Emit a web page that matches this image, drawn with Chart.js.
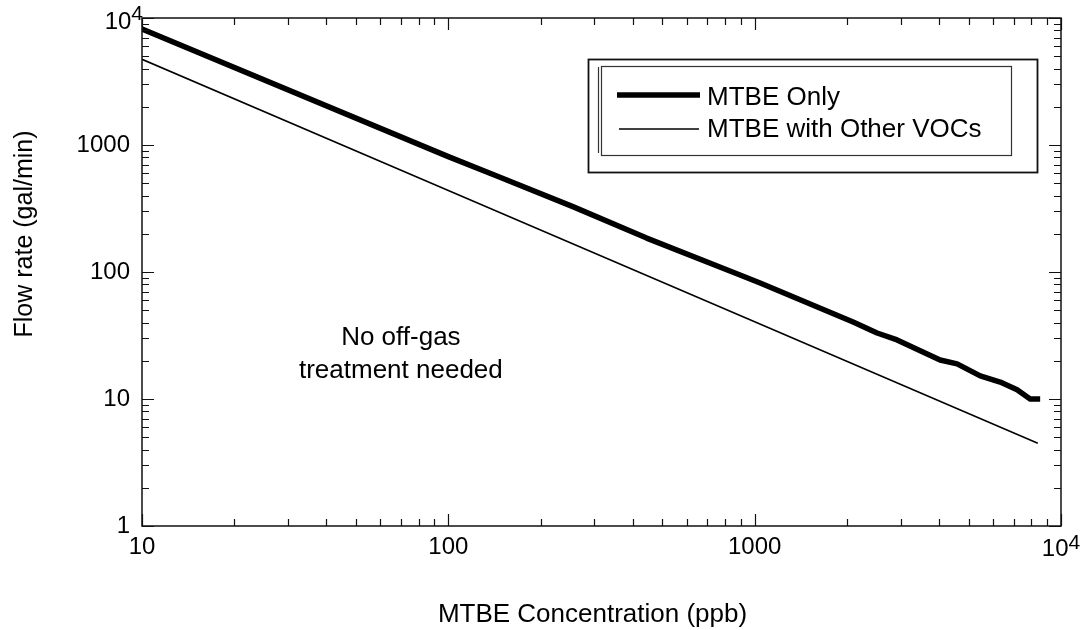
<!DOCTYPE html>
<html><head><meta charset="utf-8">
<script src="https://cdn.jsdelivr.net/npm/chart.js@4/dist/chart.umd.min.js"></script>
<style>html,body{margin:0;padding:0;background:#fff}#wrap{width:1089px;height:630px;position:relative}</style>
</head><body><div id="wrap"><canvas id="c" width="1089" height="630"></canvas></div>
<script>
// ---- data ----
const concOnly = [10, 100, 144, 255, 444, 896, 1042, 2096, 2510, 2917, 4030, 4580, 5450, 6330, 7190, 7930, 8550];
const flowOnly = [8200, 810, 570, 327, 185, 94.6, 82, 40.4, 33.1, 29.2, 20.3, 18.9, 15.2, 13.6, 11.8, 10, 10];
const concVOC = [10, 100, 1000, 8400];
const flowVOC = [4730, 438, 40.5, 4.48];
const seriesLabels = ['MTBE Only', 'MTBE with Other VOCs'];
const xTickValues = [10, 100, 1000, 10000];
const xTickLabels = ['10', '100', '1000', '10^4'];
const yTickValues = [1, 10, 100, 1000, 10000];
const yTickLabels = ['1', '10', '100', '1000', '10^4'];
const xTitle = 'MTBE Concentration (ppb)';
const yTitle = 'Flow rate (gal/min)';
const noteLines = ['No off-gas', 'treatment needed'];
const noteAnchor = {x: 70, y: 26.6};

const FONT = '"Liberation Sans", Arial, sans-serif';

function labelFor(values, labels, v) {
  const i = values.indexOf(v);
  if (i < 0) return '';
  const l = labels[i];
  return l.includes('^') ? '' : l;
}

const decorations = {
  id: 'decorations',
  afterDraw(chart) {
    const ctx = chart.ctx;
    const a = chart.chartArea;
    const xs = chart.scales.x, ys = chart.scales.y;
    ctx.save();
    ctx.strokeStyle = '#111';
    ctx.fillStyle = '#000';
    // frame
    ctx.lineWidth = 1.5;
    ctx.strokeRect(a.left, a.top, a.right - a.left, a.bottom - a.top);
    // ticks (inward, all four sides)
    ctx.lineWidth = 1.2;
    const xMaj = xTickValues, yMaj = yTickValues;
    const minors = (lo, hi) => { const r = []; for (let d = lo; d < hi; d *= 10) for (let k = 2; k <= 9; k++) r.push(d * k); return r; };
    const drawX = (v, len) => {
      const p = Math.round(xs.getPixelForValue(v)) + 0.5;
      ctx.beginPath();
      ctx.moveTo(p, a.bottom); ctx.lineTo(p, a.bottom - len);
      ctx.moveTo(p, a.top); ctx.lineTo(p, a.top + len);
      ctx.stroke();
    };
    const drawY = (v, len) => {
      const p = Math.round(ys.getPixelForValue(v)) + 0.5;
      ctx.beginPath();
      ctx.moveTo(a.left, p); ctx.lineTo(a.left + len, p);
      ctx.moveTo(a.right, p); ctx.lineTo(a.right - len, p);
      ctx.stroke();
    };
    xMaj.forEach(v => drawX(v, 12));
    minors(xMaj[0], xMaj[xMaj.length - 1]).forEach(v => drawX(v, 7));
    yMaj.forEach(v => drawY(v, 12));
    minors(yMaj[0], yMaj[yMaj.length - 1]).forEach(v => drawY(v, 7));

    // superscript tick labels
    ctx.textBaseline = 'alphabetic';
    xTickValues.forEach((v, i) => {
      const l = xTickLabels[i];
      if (!l.includes('^')) return;
      const [b, e] = l.split('^');
      const p = xs.getPixelForValue(v);
      ctx.font = '24px ' + FONT;
      const wb = ctx.measureText(b).width;
      ctx.font = '21px ' + FONT;
      const we = ctx.measureText(e).width;
      const x0 = p - (wb + we) / 2;
      ctx.font = '24px ' + FONT;
      ctx.textAlign = 'left';
      ctx.fillText(b, x0, 556);
      ctx.font = '21px ' + FONT;
      ctx.fillText(e, x0 + wb, 549);
    });
    yTickValues.forEach((v, i) => {
      const l = yTickLabels[i];
      if (!l.includes('^')) return;
      const [b, e] = l.split('^');
      const p = ys.getPixelForValue(v);
      ctx.textAlign = 'right';
      ctx.font = '21px ' + FONT;
      ctx.fillText(e, a.left + 1, p + 2);
      const we = ctx.measureText(e).width;
      ctx.font = '24px ' + FONT;
      ctx.fillText(b, a.left + 1 - we, p + 11);
    });

    // axis titles
    ctx.font = '26px ' + FONT;
    ctx.textAlign = 'center';
    ctx.fillText(xTitle, (a.left + a.right) / 2 - 9, 622);
    ctx.save();
    ctx.translate(32, 234);
    ctx.rotate(-Math.PI / 2);
    ctx.font = '25px ' + FONT;
    ctx.fillText(yTitle, 0, 0);
    ctx.restore();

    // annotation
    ctx.font = '26px ' + FONT;
    ctx.textAlign = 'center';
    const nx = xs.getPixelForValue(noteAnchor.x);
    const ny = ys.getPixelForValue(noteAnchor.y);
    noteLines.forEach((t, i) => ctx.fillText(t, nx, ny + i * 33));

    // legend
    ctx.lineWidth = 1.8;
    ctx.strokeStyle = '#111';
    ctx.strokeRect(588.5, 59.5, 449, 113);
    ctx.lineWidth = 1.2;
    ctx.strokeStyle = '#333';
    ctx.strokeRect(601.5, 66.5, 410, 89);
    ctx.beginPath(); ctx.moveTo(598.5, 67); ctx.lineTo(598.5, 153); ctx.stroke();
    const rows = [{y: 95, x0: 617, x1: 700, tb: 105}, {y: 129, x0: 619, x1: 699, tb: 137}];
    chart.data.datasets.forEach((ds, i) => {
      const r = rows[i];
      ctx.strokeStyle = ds.borderColor;
      ctx.lineWidth = ds.borderWidth;
      ctx.lineCap = 'butt';
      ctx.beginPath(); ctx.moveTo(r.x0, r.y); ctx.lineTo(r.x1, r.y); ctx.stroke();
      ctx.font = '26px ' + FONT;
      ctx.textAlign = 'left';
      ctx.fillStyle = '#000';
      ctx.fillText(ds.label, 707, r.tb);
    });
    ctx.restore();
  }
};

new Chart(document.getElementById('c'), {
  type: 'line',
  data: {
    datasets: [
      {label: seriesLabels[0], data: concOnly.map((x, i) => ({x, y: flowOnly[i]})),
       borderColor: '#000', borderWidth: 5.5, pointRadius: 0, tension: 0, fill: false, borderCapStyle: 'butt', borderJoinStyle: 'round'},
      {label: seriesLabels[1], data: concVOC.map((x, i) => ({x, y: flowVOC[i]})),
       borderColor: '#000', borderWidth: 1.6, pointRadius: 0, tension: 0, fill: false}
    ]
  },
  options: {
    responsive: false,
    animation: false,
    devicePixelRatio: 1,
    layout: {padding: {left: 0, right: 28, top: 18, bottom: 0}},
    plugins: {legend: {display: false}, tooltip: {enabled: false}},
    scales: {
      x: {
        type: 'logarithmic', min: 10, max: 10000,
        grid: {display: false, drawTicks: false},
        border: {display: false},
        afterBuildTicks: s => { s.ticks = xTickValues.map(v => ({value: v})); },
        afterFit: s => { s.height = 104; s.paddingLeft = 0; s.paddingRight = 0; },
        ticks: {autoSkip: false, maxRotation: 0, padding: 7, color: '#000',
          font: {family: FONT, size: 24},
          callback: v => labelFor(xTickValues, xTickLabels, v)}
      },
      y: {
        type: 'logarithmic', min: 1, max: 10000,
        grid: {display: false, drawTicks: false},
        border: {display: false},
        afterBuildTicks: s => { s.ticks = yTickValues.map(v => ({value: v})); },
        afterFit: s => { s.width = 142; s.paddingTop = 0; s.paddingBottom = 0; },
        ticks: {autoSkip: false, padding: 12, color: '#000',
          font: {family: FONT, size: 24},
          callback: v => labelFor(yTickValues, yTickLabels, v)}
      }
    }
  },
  plugins: [decorations]
});
</script>
</body></html>
